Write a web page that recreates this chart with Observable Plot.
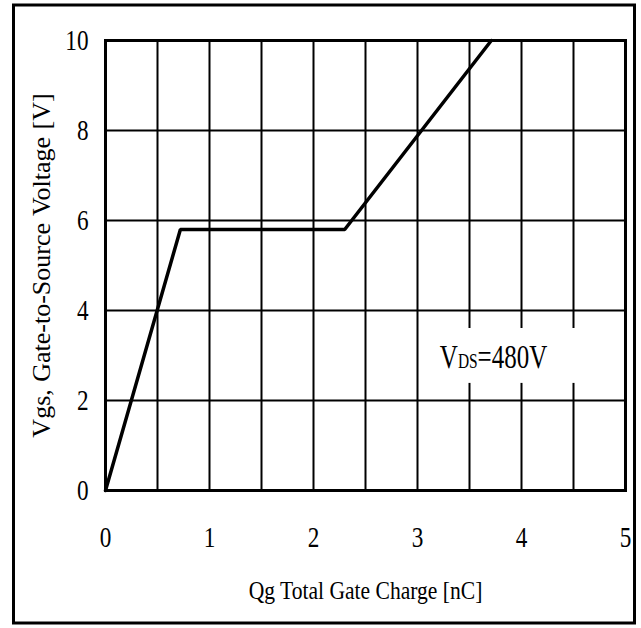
<!DOCTYPE html>
<html>
<head>
<meta charset="utf-8">
<script src="https://cdn.jsdelivr.net/npm/d3@7"></script>
<script src="https://cdn.jsdelivr.net/npm/@observablehq/plot@0.6"></script>
<style>
  html, body { margin: 0; padding: 0; background: #fff; overflow: hidden; }
  #chart svg { display: block; }
  #chart svg text { font-family: "Liberation Serif", "Times New Roman", serif; }
</style>
</head>
<body>
<div id="chart"></div>
<script>
// Data
const qg  = [0, 0.72, 2.30, 3.71];   // Qg total gate charge [nC]
const vgs = [0, 5.8, 5.8, 10];       // Vgs [V]

const xTicks = [0, 1, 2, 3, 4, 5];
const yTicks = [0, 2, 4, 6, 8, 10];
const xGrid = [0.5, 1, 1.5, 2, 2.5, 3, 3.5, 4, 4.5];
const yGrid = [2, 4, 6, 8];

const xTitle = "Qg Total Gate Charge [nC]";
const yTitle = "Vgs, Gate-to-Source Voltage [V]";
const noteText = "VDS=480V";

const curve = qg.map((q, i) => ({q, v: vgs[i]}));

const W = 641, H = 628;
const serif = "Liberation Serif";

const chart = Plot.plot({
  width: W,
  height: H,
  marginLeft: 105,
  marginRight: 16,
  marginTop: 40,
  marginBottom: 138,
  style: {fontFamily: serif, background: "#fff", color: "#000", maxWidth: "none"},
  x: {domain: [0, 5]},
  y: {domain: [0, 10]},
  marks: [
    Plot.ruleX(xGrid, {stroke: "#000", strokeWidth: 2}),
    Plot.ruleY(yGrid, {stroke: "#000", strokeWidth: 2}),
    Plot.rect([{x1: 3.08, x2: 4.58, y1: 2.38, y2: 3.6}], {x1: "x1", x2: "x2", y1: "y1", y2: "y2", fill: "#fff"}),
    Plot.frame({stroke: "#000", strokeWidth: 3}),
    Plot.line(curve, {x: "q", y: "v", stroke: "#000", strokeWidth: 3.5, strokeLinejoin: "miter"}),
    Plot.axisX(xTicks, {tickSize: 0, tickPadding: 36, fontSize: 29, fontFamily: serif, label: null, fill: "#000"}),
    Plot.axisY(yTicks, {tickSize: 0, tickPadding: 17, fontSize: 29, fontFamily: serif, label: null, fill: "#000"}),
    Plot.text([xTitle], {frameAnchor: "bottom", dy: 100, lineAnchor: "middle", fontSize: 26, fontFamily: serif, fill: "#000"}),
    Plot.text([yTitle], {frameAnchor: "left", dx: -64, rotate: -90, textAnchor: "middle", lineAnchor: "middle", fontSize: 26, fontFamily: serif, fill: "#000"}),
    Plot.text([noteText], {x: 3.215, y: 2.97, textAnchor: "start", lineAnchor: "middle", fontSize: 34, fontFamily: serif, fill: "#000"})
  ]
});

const svg = d3.select(chart);

// Outer border box
svg.append("rect")
  .attr("x", 13.5).attr("y", 5)
  .attr("width", 634.5 - 13.5).attr("height", 623 - 5)
  .attr("fill", "none").attr("stroke", "#000").attr("stroke-width", 3);

// Small-caps style "DS" in the annotation
svg.selectAll("text").filter(function() { return this.textContent === noteText; })
  .each(function() {
    const t = d3.select(this);
    t.text(null);
    t.append("tspan").text("V");
    t.append("tspan").attr("font-size", 21).text("DS");
    t.append("tspan").text("=480V");
    t.classed("note", true);
  });

svg.selectAll("text").filter(function() { return this.textContent === yTitle; })
  .classed("ytitle", true)
  .attr("word-spacing", 1);

// Condense the serif text horizontally (the reference uses a narrow serif face)
function squeeze(node, s) {
  const t = d3.select(node);
  const x = parseFloat(t.attr("x")) || 0;
  const prev = t.attr("transform") || "";
  t.attr("transform", `${prev} translate(${x},0) scale(${s},1) translate(${-x},0)`);
}
svg.selectAll("text").each(function() {
  const sel = d3.select(this);
  const fs = parseFloat(d3.select(this.parentNode).attr("font-size")) || 0;
  if (sel.classed("ytitle")) return;
  if (sel.classed("note")) squeeze(this, 0.735);
  else if (fs >= 29) squeeze(this, 0.8);
  else squeeze(this, 0.83);
});

document.getElementById("chart").appendChild(chart);
</script>
</body>
</html>
